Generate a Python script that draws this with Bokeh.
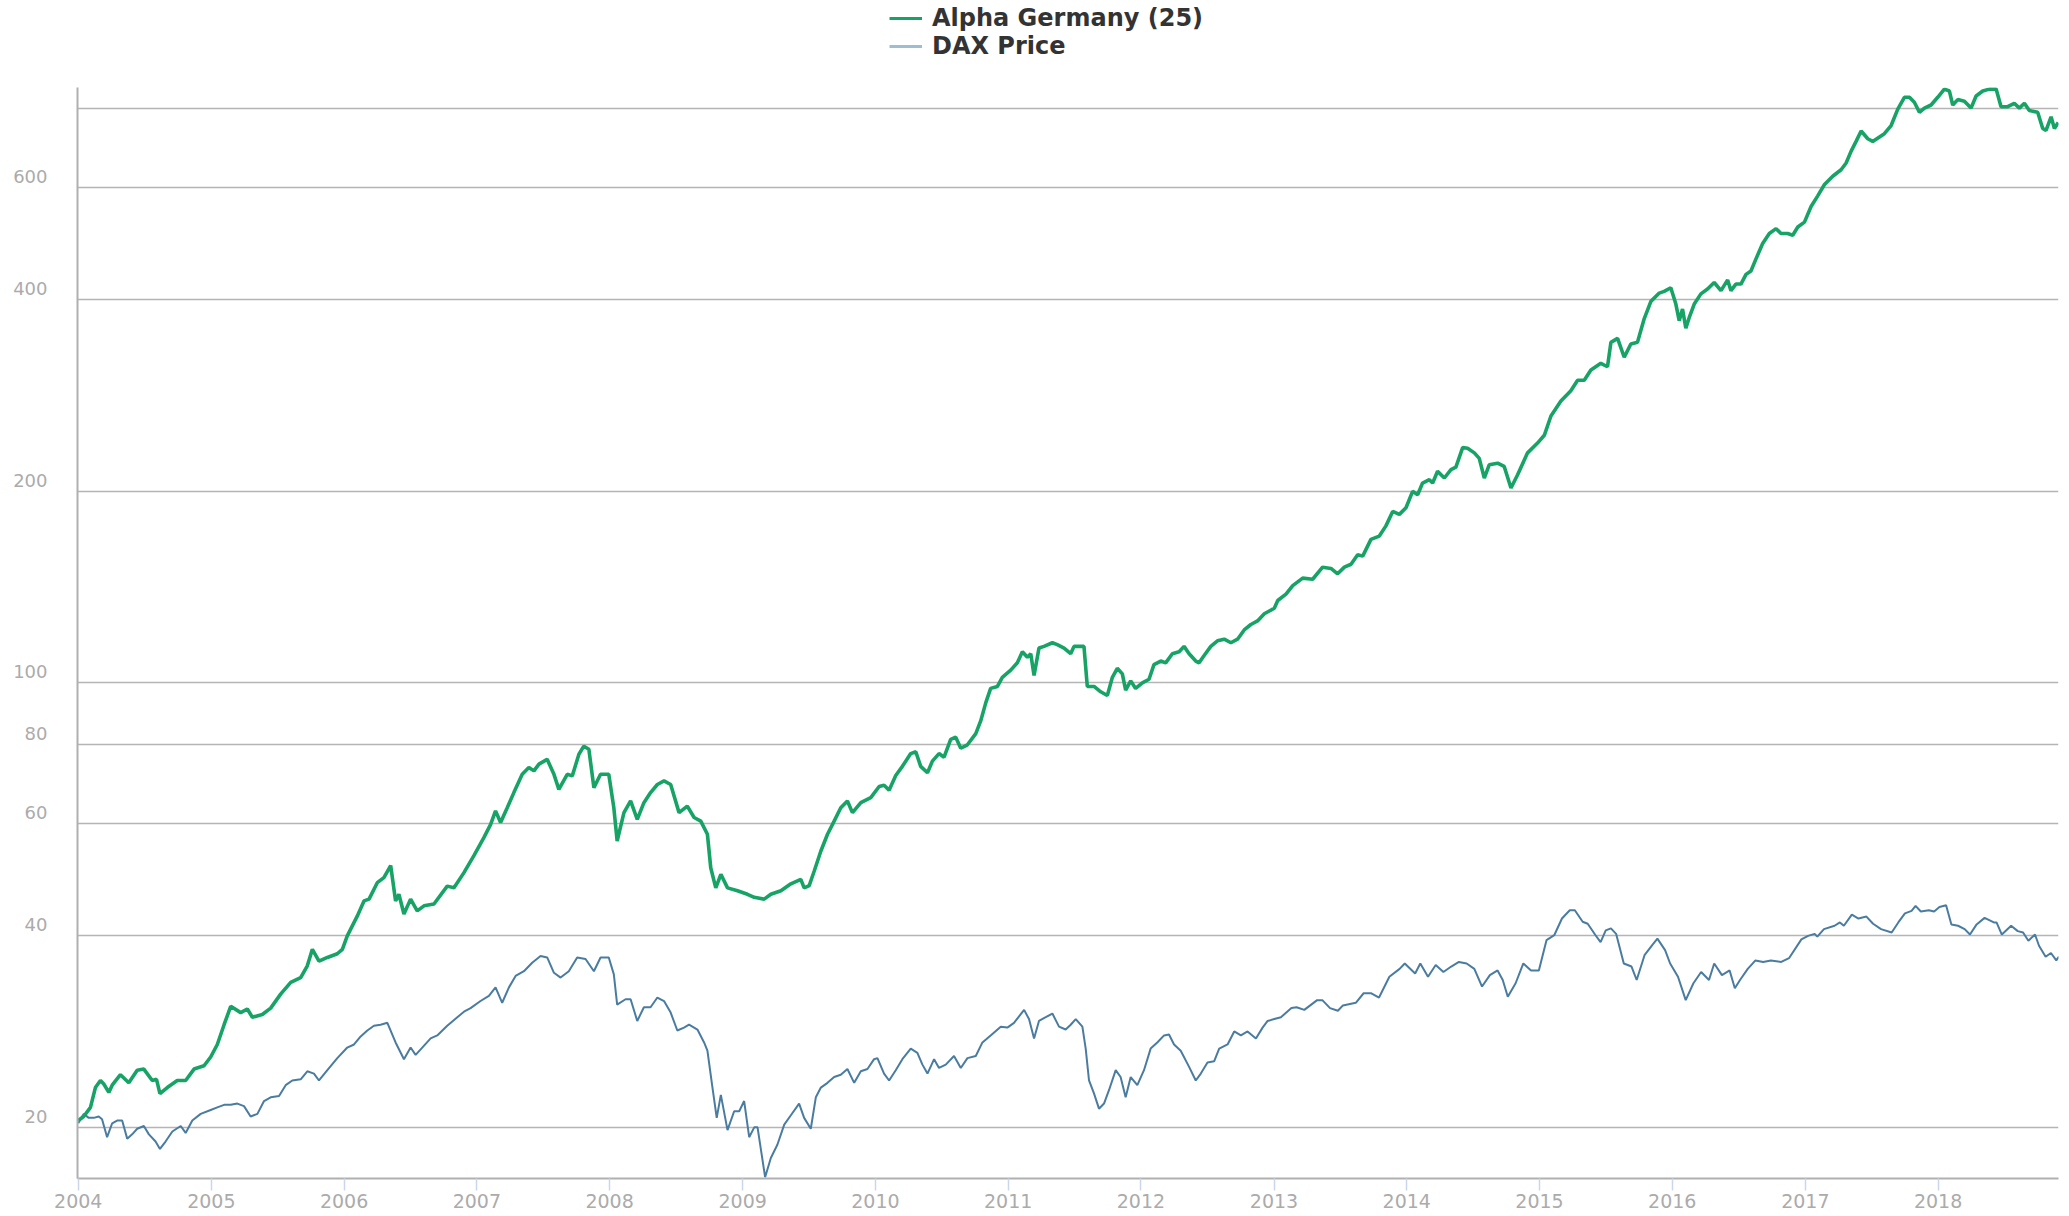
import numpy as np
import pandas as pd
from bokeh.plotting import figure
from bokeh.layouts import column
from bokeh.models import (Range1d, FixedTicker, DatetimeTickFormatter, Legend, LegendItem,
                          ColumnDataSource)
from bokeh.embed import file_html
from bokeh.resources import INLINE

# ---------------- data (decimal years, index values) ----------------
alpha_t = [2004.000, 2004.041, 2004.092, 2004.129, 2004.167, 2004.192, 2004.230, 2004.255, 2004.317, 2004.380,
           2004.443, 2004.493, 2004.556, 2004.588, 2004.614, 2004.669, 2004.744, 2004.807, 2004.870, 2004.945,
           2004.995, 2005.045, 2005.096, 2005.146, 2005.221, 2005.271, 2005.309, 2005.384, 2005.447, 2005.522,
           2005.598, 2005.673, 2005.723, 2005.761, 2005.811, 2005.874, 2005.949, 2005.987, 2006.024, 2006.100,
           2006.150, 2006.188, 2006.250, 2006.300, 2006.351, 2006.388, 2006.413, 2006.451, 2006.501, 2006.551,
           2006.602, 2006.677, 2006.777, 2006.828, 2006.903, 2006.978,
           2007.053, 2007.104, 2007.141, 2007.179, 2007.229, 2007.279, 2007.342, 2007.392, 2007.430, 2007.468,
           2007.530, 2007.581, 2007.618, 2007.681, 2007.719, 2007.769, 2007.806, 2007.844, 2007.882, 2007.932,
           2007.994, 2008.032, 2008.057, 2008.108, 2008.158, 2008.208, 2008.258, 2008.308, 2008.359, 2008.409,
           2008.459, 2008.522, 2008.584, 2008.635, 2008.685, 2008.735, 2008.760, 2008.798, 2008.836, 2008.886,
           2008.961, 2009.036, 2009.087, 2009.162, 2009.212, 2009.288, 2009.363, 2009.438, 2009.463, 2009.501,
           2009.539, 2009.589, 2009.639, 2009.689, 2009.739, 2009.789, 2009.827, 2009.890, 2009.965,
           2010.028, 2010.065, 2010.103, 2010.153, 2010.203, 2010.266, 2010.304, 2010.341, 2010.392, 2010.429,
           2010.479, 2010.517, 2010.567, 2010.605, 2010.643, 2010.693, 2010.756, 2010.793, 2010.831, 2010.868,
           2010.919, 2010.956, 2011.019, 2011.069, 2011.107, 2011.145, 2011.170, 2011.195, 2011.232, 2011.270,
           2011.333, 2011.370, 2011.421, 2011.471, 2011.496, 2011.546, 2011.571, 2011.596, 2011.647, 2011.697,
           2011.747, 2011.785, 2011.822, 2011.860, 2011.885, 2011.923, 2011.960, 2012.011, 2012.061, 2012.098,
           2012.149, 2012.186, 2012.236, 2012.287, 2012.324, 2012.362, 2012.412, 2012.437, 2012.475, 2012.525,
           2012.575, 2012.626, 2012.676, 2012.726, 2012.776, 2012.826, 2012.876, 2012.927, 2013.002,
           2013.028, 2013.090, 2013.141, 2013.216, 2013.291, 2013.366, 2013.429, 2013.479, 2013.530, 2013.580,
           2013.630, 2013.668, 2013.730, 2013.793, 2013.843, 2013.894, 2013.944, 2013.994, 2014.044, 2014.082,
           2014.119, 2014.170, 2014.195, 2014.232, 2014.283, 2014.333, 2014.370, 2014.421, 2014.458, 2014.509,
           2014.546, 2014.584, 2014.621, 2014.684, 2014.734, 2014.785, 2014.835, 2014.910, 2014.985, 2015.036,
           2015.086, 2015.161, 2015.236, 2015.287, 2015.337, 2015.387, 2015.462, 2015.512, 2015.538, 2015.588,
           2015.638, 2015.688, 2015.738, 2015.789, 2015.839, 2015.902, 2015.939, 2015.989,
           2016.027, 2016.052, 2016.077, 2016.102, 2016.127, 2016.165, 2016.215, 2016.265, 2016.315, 2016.366,
           2016.416, 2016.441, 2016.478, 2016.516, 2016.554, 2016.591, 2016.629, 2016.679, 2016.729, 2016.780,
           2016.817, 2016.867, 2016.905, 2016.943, 2016.993, 2017.043, 2017.093, 2017.144, 2017.206, 2017.269,
           2017.307, 2017.344, 2017.382, 2017.420, 2017.470, 2017.507, 2017.595, 2017.646, 2017.696, 2017.746,
           2017.784, 2017.821, 2017.859, 2017.897, 2017.947, 2017.997, 2018.047, 2018.085, 2018.110, 2018.148,
           2018.198, 2018.248, 2018.286, 2018.336, 2018.386, 2018.437, 2018.474, 2018.524, 2018.574, 2018.612,
           2018.650, 2018.687, 2018.750, 2018.788, 2018.813, 2018.851, 2018.876, 2018.905]
alpha_v = [20.5, 20.8, 21.5, 23.1, 23.7, 23.4, 22.7, 23.3, 24.2, 23.5,
           24.6, 24.7, 23.7, 23.8, 22.6, 23.1, 23.7, 23.7, 24.7, 25.0,
           25.8, 27.0, 29.0, 31.0, 30.3, 30.7, 29.8, 30.1, 30.8, 32.4,
           33.8, 34.4, 35.9, 38.1, 36.5, 37.0, 37.5, 38.1, 40.0, 43.0,
           45.4, 45.7, 48.5, 49.4, 51.6, 45.4, 46.5, 43.3, 45.7, 43.8,
           44.6, 44.9, 47.9, 47.6, 50.3, 53.5,
           57.1, 59.9, 62.9, 60.3, 63.6, 67.2, 71.8, 73.6, 72.7, 74.5,
           75.8, 71.8, 68.0, 71.8, 71.4, 77.2, 79.5, 78.6, 68.4, 71.8,
           71.8, 63.6, 56.4, 62.5, 65.2, 61.0, 64.8, 67.2, 69.2, 70.1,
           69.2, 62.5, 64.0, 61.4, 60.6, 57.8, 51.2, 47.6, 50.0, 47.6,
           47.1, 46.5, 46.0, 45.7, 46.5, 47.1, 48.3, 49.1, 47.6, 48.0,
           50.6, 54.4, 57.8, 60.6, 63.6, 65.2, 62.5, 64.8, 66.0,
           68.7, 69.0, 67.8, 71.5, 73.9, 77.4, 77.9, 73.9, 72.2, 75.3,
           77.4, 76.4, 81.5, 82.1, 78.9, 79.9, 83.2, 87.1, 93.0, 98.0,
           98.7, 102.0, 104.7, 107.5, 111.9, 109.7, 111.1, 102.7, 113.4, 114.1,
           115.6, 114.8, 113.4, 111.1, 114.1, 114.1, 114.1, 98.7, 98.7, 96.8,
           95.5, 102.0, 105.4, 103.3, 97.4, 100.7, 98.0, 100.0, 101.3, 106.8,
           108.2, 107.5, 111.1, 111.9, 114.1, 111.1, 108.2, 107.5, 110.4, 114.1,
           116.4, 117.1, 115.6, 117.1, 121.1, 123.5, 125.1, 128.4, 131.0,
           134.7, 137.9, 142.2, 146.1, 145.5, 152.0, 151.3, 148.4, 152.0, 153.6,
           159.0, 158.2, 168.1, 170.1, 176.5, 186.0, 184.0, 188.5, 200.0, 197.6,
           206.1, 208.6, 206.1, 215.1, 209.9, 216.4, 218.3, 234.3, 233.8, 229.9,
           225.4, 209.9, 220.2, 221.5, 218.9, 202.4, 212.4, 229.9, 238.2, 245.0,
           262.7, 277.4, 287.8, 299.0, 299.0, 310.3, 317.9, 314.0, 343.0, 348.0,
           325.0, 341.0, 343.0, 373.8, 397.9, 410.0, 412.6, 418.0,
           394.0, 371.0, 387.0, 361.0, 375.0, 394.0, 408.8, 416.0, 426.0, 413.6,
           430.0, 413.6, 423.6, 423.6, 438.7, 444.2, 464.0, 490.5, 508.6, 517.7,
           508.6, 508.6, 505.5, 520.8, 530.0, 561.0, 583.0, 607.4, 625.9, 640.8,
           656.6, 684.8, 710.0, 737.3, 716.8, 710.0, 730.2, 752.0, 798.2, 833.0,
           833.0, 818.0, 789.0, 801.0, 810.0, 833.0, 858.0, 852.0, 810.0, 826.0,
           821.0, 801.0, 837.0, 852.0, 858.0, 858.0, 805.0, 805.0, 815.0, 801.0,
           815.0, 794.0, 789.0, 744.0, 739.0, 776.0, 744.0, 760.0]

dax_t = [2004.000, 2004.041, 2004.079, 2004.117, 2004.154, 2004.179, 2004.217, 2004.255, 2004.292, 2004.330,
         2004.368, 2004.405, 2004.443, 2004.493, 2004.531, 2004.581, 2004.614, 2004.656, 2004.707, 2004.770,
         2004.807, 2004.857, 2004.920, 2004.995, 2005.045, 2005.096, 2005.146, 2005.196, 2005.246, 2005.296,
         2005.347, 2005.397, 2005.447, 2005.510, 2005.560, 2005.610, 2005.673, 2005.723, 2005.773, 2005.811,
         2005.874, 2005.949, 2006.024, 2006.075, 2006.125, 2006.175, 2006.225, 2006.275, 2006.326, 2006.388,
         2006.451, 2006.501, 2006.539, 2006.589, 2006.652, 2006.702, 2006.777, 2006.853, 2006.903, 2006.953,
         2007.028, 2007.091, 2007.141, 2007.191, 2007.242, 2007.292, 2007.355, 2007.417, 2007.480, 2007.530,
         2007.581, 2007.631, 2007.693, 2007.756, 2007.819, 2007.882, 2007.932, 2007.994, 2008.032, 2008.057,
         2008.120, 2008.158, 2008.208, 2008.258, 2008.308, 2008.359, 2008.409, 2008.459, 2008.509, 2008.559,
         2008.597, 2008.660, 2008.710, 2008.735, 2008.773, 2008.805, 2008.836, 2008.886, 2008.936, 2008.974,
         2009.011, 2009.049, 2009.087, 2009.112, 2009.169, 2009.212, 2009.262, 2009.313, 2009.363, 2009.425,
         2009.463, 2009.513, 2009.551, 2009.589, 2009.639, 2009.689, 2009.739, 2009.789, 2009.840, 2009.890,
         2009.940, 2009.990,
         2010.015, 2010.065, 2010.103, 2010.153, 2010.203, 2010.266, 2010.316, 2010.354, 2010.392, 2010.442,
         2010.479, 2010.530, 2010.592, 2010.643, 2010.693, 2010.756, 2010.806, 2010.868, 2010.944, 2010.994,
         2011.044, 2011.120, 2011.157, 2011.195, 2011.232, 2011.283, 2011.333, 2011.383, 2011.433, 2011.471,
         2011.509, 2011.559, 2011.584, 2011.609, 2011.647, 2011.684, 2011.722, 2011.760, 2011.810, 2011.847,
         2011.885, 2011.923, 2011.973, 2012.023, 2012.073, 2012.123, 2012.174, 2012.211, 2012.249, 2012.299,
         2012.362, 2012.412, 2012.450, 2012.500, 2012.550, 2012.588, 2012.651, 2012.701, 2012.751, 2012.801,
         2012.864, 2012.914, 2012.952, 2013.002, 2013.052,
         2013.131, 2013.170, 2013.228, 2013.325, 2013.364, 2013.422, 2013.481, 2013.519, 2013.616, 2013.675,
         2013.733, 2013.791, 2013.869, 2013.946, 2013.985, 2014.063, 2014.102, 2014.160, 2014.218, 2014.276,
         2014.335, 2014.393, 2014.451, 2014.509, 2014.567, 2014.626, 2014.684, 2014.723, 2014.761, 2014.820,
         2014.878, 2014.936, 2014.995, 2015.053, 2015.111, 2015.169, 2015.228, 2015.266, 2015.325, 2015.363,
         2015.422, 2015.460, 2015.499, 2015.538, 2015.577, 2015.635, 2015.693, 2015.732, 2015.791, 2015.849,
         2015.888, 2015.946, 2015.984, 2016.043, 2016.101, 2016.159, 2016.217, 2016.276, 2016.315, 2016.373,
         2016.431, 2016.470, 2016.509, 2016.567, 2016.625, 2016.683, 2016.741, 2016.819, 2016.877,
         2016.970, 2017.020, 2017.070, 2017.090, 2017.140, 2017.220, 2017.260, 2017.290, 2017.350, 2017.400,
         2017.460, 2017.510, 2017.570, 2017.650, 2017.700, 2017.750, 2017.800, 2017.830, 2017.870, 2017.930,
         2017.970, 2018.010, 2018.060, 2018.100, 2018.150, 2018.200, 2018.240, 2018.290, 2018.350, 2018.420,
         2018.440, 2018.480, 2018.550, 2018.600, 2018.640, 2018.680, 2018.730, 2018.760, 2018.810, 2018.850,
         2018.890, 2018.910]
dax_v = [20.3, 21.0, 20.7, 20.7, 20.8, 20.6, 19.3, 20.3, 20.5, 20.5,
         19.2, 19.5, 19.9, 20.1, 19.5, 19.0, 18.5, 19.0, 19.7, 20.1,
         19.6, 20.5, 21.0, 21.3, 21.5, 21.7, 21.7, 21.8, 21.6, 20.8,
         21.0, 22.0, 22.3, 22.4, 23.3, 23.7, 23.8, 24.5, 24.3, 23.7,
         24.6, 25.7, 26.7, 27.0, 27.8, 28.4, 28.9, 29.0, 29.2, 27.2,
         25.6, 26.7, 26.0, 26.7, 27.6, 27.9, 28.9, 29.8, 30.4, 30.8,
         31.6, 32.2, 33.2, 31.4, 33.2, 34.6, 35.2, 36.3, 37.2, 37.0,
         35.0, 34.4, 35.2, 37.0, 36.8, 35.2, 37.0, 37.0, 34.8, 31.2,
         31.8, 31.8, 29.4, 30.9, 30.9, 32.0, 31.6, 30.3, 28.4, 28.7,
         29.0, 28.5, 27.2, 26.4, 23.1, 20.7, 22.5, 19.8, 21.2, 21.2,
         22.0, 19.3, 20.0, 20.0, 16.7, 17.9, 18.8, 20.2, 20.9, 21.8,
         20.7, 19.9, 22.3, 23.1, 23.5, 24.0, 24.2, 24.7, 23.5, 24.5,
         24.7, 25.6,
         25.7, 24.3, 23.7, 24.6, 25.6, 26.6, 26.2, 25.1, 24.3, 25.6,
         24.8, 25.1, 25.9, 24.8, 25.7, 25.9, 27.2, 27.9, 28.8, 28.7,
         29.2, 30.6, 29.6, 27.6, 29.4, 29.8, 30.2, 28.8, 28.5, 29.0,
         29.6, 28.8, 26.6, 23.7, 22.6, 21.4, 21.8, 22.9, 24.6, 24.0,
         22.3, 24.0, 23.3, 24.6, 26.6, 27.2, 27.9, 28.0, 27.0, 26.4,
         24.9, 23.7, 24.3, 25.3, 25.4, 26.6, 27.0, 28.3, 27.9, 28.3,
         27.6, 28.7, 29.4, 29.6, 29.8,
         30.8, 30.9, 30.6, 31.7, 31.7, 30.8, 30.5, 31.1, 31.4, 32.5,
         32.5, 32.0, 34.5, 35.5, 36.2, 34.9, 36.2, 34.5, 36.0, 35.1,
         35.8, 36.4, 36.2, 35.5, 33.3, 34.7, 35.3, 34.1, 32.1, 33.7,
         36.2, 35.3, 35.3, 39.4, 40.1, 42.6, 43.9, 43.9, 42.1, 41.8,
         40.1, 39.1, 40.8, 41.1, 40.3, 36.2, 35.8, 34.1, 37.3, 38.7,
         39.6, 38.0, 36.2, 34.5, 31.7, 33.7, 35.1, 34.1, 36.2, 34.7,
         35.3, 33.1, 34.1, 35.5, 36.6, 36.4, 36.6, 36.4, 36.9,
         39.5, 40.0, 40.3, 39.9, 41.0, 41.5, 42.0, 41.5, 43.2, 42.6,
         42.9, 41.8, 41.0, 40.5, 42.0, 43.4, 43.8, 44.6, 43.7, 43.9,
         43.7, 44.4, 44.7, 41.7, 41.5, 41.0, 40.2, 41.7, 42.7, 42.0,
         42.0, 40.2, 41.5, 40.7, 40.5, 39.3, 40.2, 38.6, 37.1, 37.6,
         36.6, 37.1]

year_ticks = list(range(2004, 2019))
y_ticks = [20, 40, 60, 80, 100, 200, 400, 600, 800]
y_tick_labels = ["20", "40", "60", "80", "100", "200", "400", "600"]   # the 800 line has no label

series_names = ["Alpha Germany (25)", "DAX Price"]


def to_dt(years):
    out = []
    for y in years:
        yr = int(np.floor(y))
        a = pd.Timestamp(year=yr, month=1, day=1)
        b = pd.Timestamp(year=yr + 1, month=1, day=1)
        out.append(a + (b - a) * (y - yr))
    return out


GREEN = "#17a366"
BLUE = "#4a7ca0"
TICK_GREY = "#ababab"
FONT = "DejaVu Sans"

x0 = pd.Timestamp("2003-12-30")
x1 = pd.Timestamp("2018-11-28")

# ---------------- legend strip (top) ----------------
top = figure(frame_width=2069, frame_height=87, x_range=Range1d(0, 1), y_range=Range1d(0, 1),
             output_backend="svg", toolbar_location=None, x_axis_location=None, y_axis_location=None,
             min_border=0)
top.outline_line_color = None
top.xgrid.grid_line_color = None
top.ygrid.grid_line_color = None
# legend-only renderers (a single NaN point: nothing is drawn in the plot area)
leg_a = top.line(x=[np.nan], y=[np.nan], line_color=GREEN, line_width=3)
leg_d = top.line(x=[np.nan], y=[np.nan], line_color="#9dbdd2", line_width=3)
legend = Legend(items=[LegendItem(label=series_names[0], renderers=[leg_a]),
                       LegendItem(label=series_names[1], renderers=[leg_d])],
                location=(889, 27), orientation="vertical",
                label_text_font=FONT, label_text_font_style="bold", label_text_font_size="24px",
                label_text_color="#333333", glyph_width=33, glyph_height=22, label_height=22,
                label_standoff=10, spacing=-5, padding=0, margin=0,
                border_line_alpha=0, background_fill_alpha=0)
top.add_layout(legend)

# ---------------- main chart ----------------
p = figure(frame_width=1981, frame_height=1091, x_axis_type="datetime", y_axis_type="log",
           x_range=Range1d(x0, x1), y_range=Range1d(16.62, 863),
           output_backend="svg", toolbar_location=None,
           min_border_left=77, min_border_right=11, min_border_top=0, min_border_bottom=4)
p.outline_line_color = None

src_a = ColumnDataSource(dict(x=to_dt(alpha_t), y=alpha_v))
src_d = ColumnDataSource(dict(x=to_dt(dax_t), y=dax_v))
p.line("x", "y", source=src_d, line_color=BLUE, line_width=2.0)
p.line("x", "y", source=src_a, line_color=GREEN, line_width=3.6)

# grid lines at the tick values
p.ygrid.ticker = FixedTicker(ticks=y_ticks, minor_ticks=[])
p.ygrid.grid_line_color = "#b5b5b5"
p.ygrid.grid_line_width = 1.4
p.xgrid.grid_line_color = None

# y labels sit slightly above their grid lines (about 11 px on this log scale)
label_pos = [round(v * 1.0406, 4) for v in y_ticks[:-1]]
p.yaxis.ticker = FixedTicker(ticks=label_pos, minor_ticks=[])
p.yaxis.major_label_overrides = {pos: txt for pos, txt in zip(label_pos, y_tick_labels)}
p.yaxis.major_label_text_font = FONT
p.yaxis.major_label_text_font_size = "18px"
p.yaxis.major_label_text_color = TICK_GREY
p.yaxis.major_label_standoff = 30
p.yaxis.major_tick_out = 0
p.yaxis.major_tick_in = 0
p.yaxis.minor_tick_out = 0
p.yaxis.minor_tick_in = 0
p.yaxis.axis_line_color = "#b0b0b0"
p.yaxis.axis_line_width = 2

# x axis
tick_ms = [pd.Timestamp(year=y, month=1, day=1).value / 1e6 for y in year_ticks]
p.xaxis.ticker = FixedTicker(ticks=tick_ms, minor_ticks=[])
p.xaxis.formatter = DatetimeTickFormatter(years="%Y", months="%Y", days="%Y", hours="%Y",
                                          minutes="%Y", seconds="%Y", milliseconds="%Y")
p.xaxis.axis_line_color = "#b0b0b0"
p.xaxis.axis_line_width = 2
p.xaxis.major_tick_out = 12
p.xaxis.major_tick_in = 0
p.xaxis.major_tick_line_color = "#ccd6eb"
p.xaxis.major_tick_line_width = 1.5
p.xaxis.minor_tick_line_color = None
p.xaxis.major_label_text_font = FONT
p.xaxis.major_label_text_font_size = "19px"
p.xaxis.major_label_text_color = TICK_GREY
p.xaxis.major_label_standoff = 3

layout = column(top, p, spacing=0)
open("out.html", "w").write(file_html(layout, INLINE))
